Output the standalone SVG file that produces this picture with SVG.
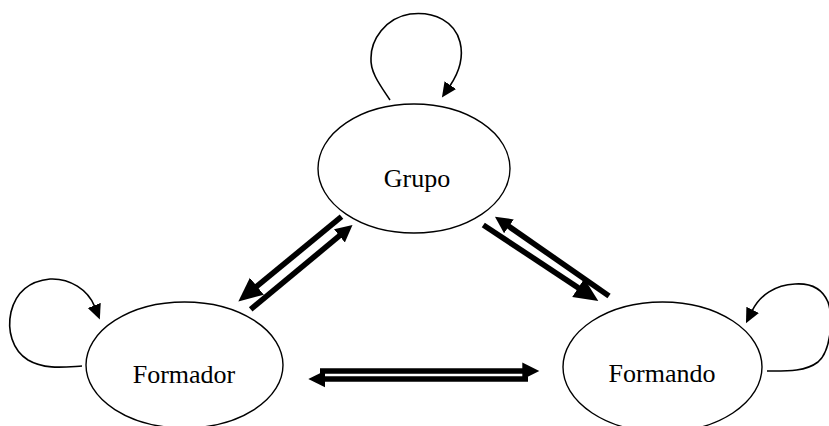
<svg xmlns="http://www.w3.org/2000/svg" width="829" height="426" viewBox="0 0 829 426">
<style>
.node ellipse{fill:#fff;stroke:#000;stroke-width:1.4}
.node text{font-family:"Liberation Serif","Times New Roman",serif;font-size:26px;fill:#000;text-anchor:middle}
.thick{stroke:#000;stroke-width:5.6;fill:none}
.loop{stroke:#000;stroke-width:1.6;fill:none}
</style>
<defs>
<marker id="hb" markerUnits="userSpaceOnUse" viewBox="0 0 26 24" markerWidth="26" markerHeight="24" refX="1" refY="12" orient="auto"><path d="M0,1 L24,12 L0,23 z" fill="#000"/></marker>
<marker id="hs" markerUnits="userSpaceOnUse" viewBox="0 0 18 20" markerWidth="18" markerHeight="20" refX="1" refY="10" orient="auto"><path d="M0,1.5 L17,10 L0,18.5 z" fill="#000"/></marker>
<marker id="hl" markerUnits="userSpaceOnUse" viewBox="0 0 16 16" markerWidth="16" markerHeight="16" refX="1" refY="8" orient="auto"><path d="M0,1 L15,8 L0,15 z" fill="#000"/></marker>
</defs>
<g id="grupo" class="node"><ellipse cx="414" cy="168.5" rx="96" ry="64.5"/><text x="417" y="187">Grupo</text></g>
<g id="formador" class="node"><ellipse cx="184.5" cy="365" rx="98.5" ry="63"/><text x="184" y="383">Formador</text></g>
<g id="formando" class="node"><ellipse cx="662.5" cy="367" rx="99.5" ry="65"/><text x="662" y="382">Formando</text></g>
<g id="connectors">
<path class="loop" d="M390,100 C380,85 370,72 371,58 C371,40 385,18 410,14 C435,11 455,22 460,42 C464,58 458,74 449.8,86" marker-end="url(#hl)"/>
<path class="loop" d="M82,366 C65,367 45,370 28,360 C12,350 7,330 11,312 C16,292 30,281 50,279 C70,278 88,290 94.6,306.4" marker-end="url(#hl)"/>
<path class="loop" d="M767,371 C785,371 805,372 818,362 C830,352 834,320 828,302 C822,288 810,283 795,284 C775,285 760,295 752.2,310.7" marker-end="url(#hl)"/>
<line class="thick" x1="341.5" y1="216.7" x2="256.1" y2="286.9" marker-end="url(#hb)"/>
<line class="thick" x1="250.7" y1="309.3" x2="340.2" y2="235.2" marker-end="url(#hs)"/>
<line class="thick" x1="483.3" y1="225" x2="579.1" y2="288.3" marker-end="url(#hb)"/>
<line class="thick" x1="609" y1="296" x2="508.1" y2="225.8" marker-end="url(#hs)"/>
<line class="thick" x1="320" y1="371" x2="523.3" y2="371" marker-end="url(#hs)"/>
<line class="thick" x1="528" y1="379" x2="324.3" y2="379" marker-end="url(#hs)"/>
</g>
</svg>
